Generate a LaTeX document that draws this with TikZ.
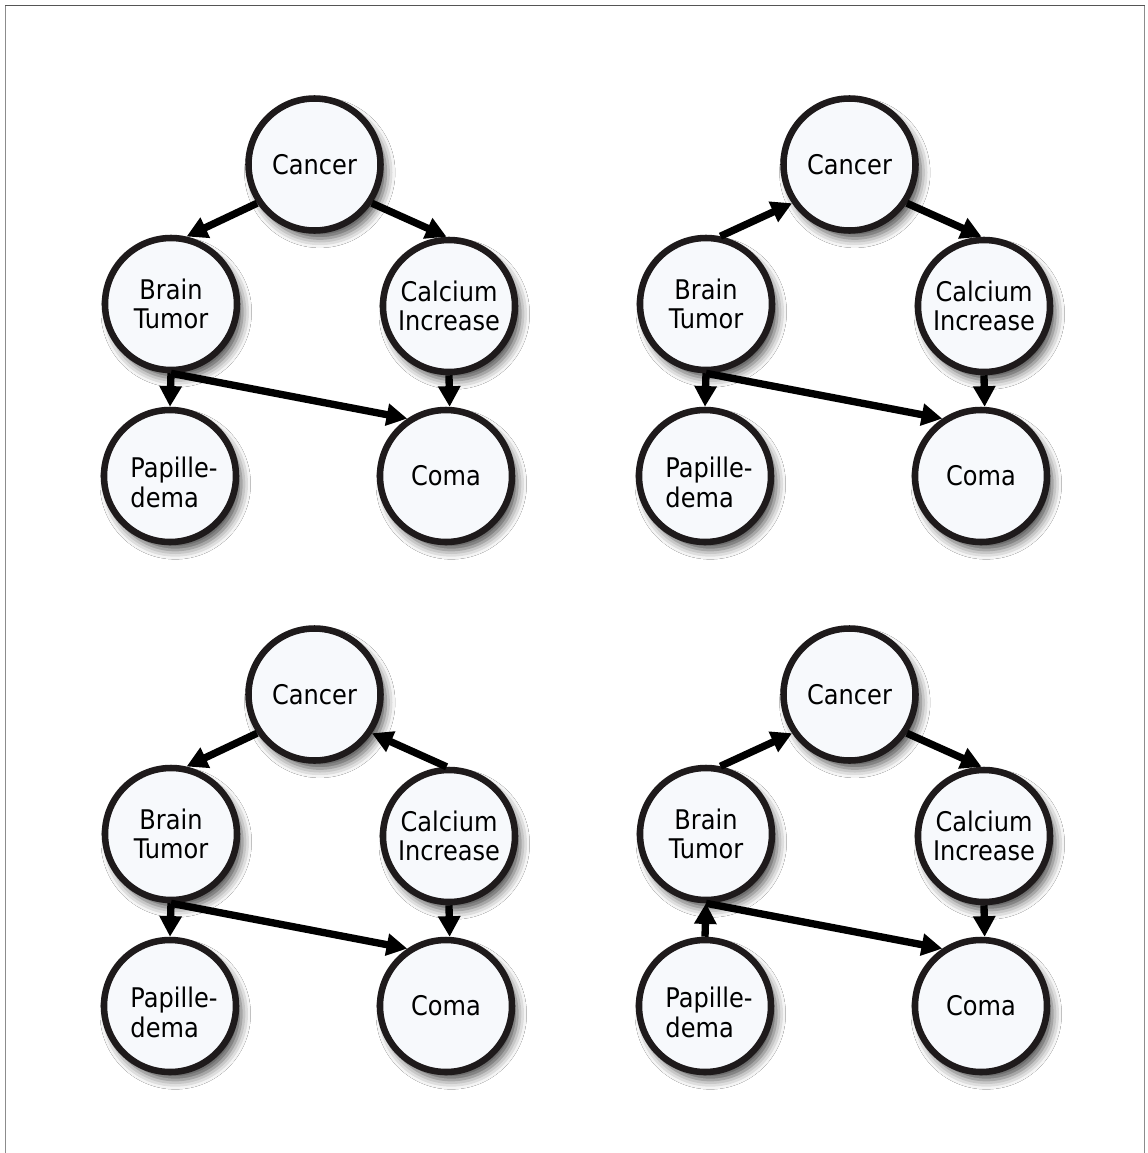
\documentclass[tikz,border=0pt]{standalone}
\usepackage{fontspec}
\setmainfont{DejaVu Sans}[FakeStretch=0.89]
\usetikzlibrary{arrows.meta,shadows.blur}
\definecolor{nodefill}{RGB}{247,249,252}
\definecolor{ink}{RGB}{30,26,27}
\definecolor{framedark}{RGB}{85,85,85}
\definecolor{framelight}{RGB}{140,140,140}
\tikzset{
  bnode/.style={circle, draw=ink, line width=4.9pt, fill=nodefill,
    minimum size=99pt, inner sep=0pt, align=center,
    font=\fontsize{20.3}{22}\selectfont,
    blur shadow={shadow xshift=4pt, shadow yshift=-6pt, shadow blur radius=7pt, shadow opacity=70}},
  ptext/.style={align=left, inner sep=0pt, font=\fontsize{20.3}{22.5}\selectfont},
  edge/.style={line width=5.5pt, draw=black, -{Triangle[length=15.5pt,width=16pt]}},
}
\begin{document}
\begin{tikzpicture}[x=0.75pt,y=-0.75pt]
\useasboundingbox (0,0) rectangle (1147,1153);
\fill[white] (0,0) rectangle (1147,1153);
\draw[framelight, line width=1.2pt] (5.5,1153) -- (5.5,5.5);
\draw[framelight, line width=1.2pt] (1144.5,5.5) -- (1144.5,1153);
\draw[framedark, line width=1.2pt] (5,5.5) -- (1145,5.5);

% ---------- panel 1 (top left)
\begin{scope}
\node[bnode] (c1) at (314.5,164.5) {Cancer};
\node[bnode] (b1) at (171,304) {Brain\\Tumor};
\node[bnode] (k1) at (449,306) {Calcium\\Increase};
\node[bnode] (p1) at (170,476) {};
\node[ptext] (pt1) at (174,482) {Papille-\\dema};
\node[bnode] (m1) at (446,476) {Coma};
\draw[edge] (c1.214) -- (b1.77);
\draw[edge] (c1.-34) -- (k1.92);
\draw[edge] (b1.south) -- (p1.north);
\draw[edge] (b1.south) -- (m1.124);
\draw[edge] (k1.south) -- (m1.87);
\end{scope}

% ---------- panel 2 (top right)
\begin{scope}[shift={(535,0)}]
\node[bnode] (c2) at (314.5,164.5) {Cancer};
\node[bnode] (b2) at (171,304) {Brain\\Tumor};
\node[bnode] (k2) at (449,306) {Calcium\\Increase};
\node[bnode] (p2) at (170,476) {};
\node[ptext] (pt2) at (174,482) {Papille-\\dema};
\node[bnode] (m2) at (446,476) {Coma};
\draw[edge] (b2.78) -- (c2.214);
\draw[edge] (c2.-34) -- (k2.92);
\draw[edge] (b2.south) -- (p2.north);
\draw[edge] (b2.south) -- (m2.124);
\draw[edge] (k2.south) -- (m2.87);
\end{scope}

% ---------- panel 3 (bottom left)
\begin{scope}[shift={(0,530)}]
\node[bnode] (c3) at (314.5,164.5) {Cancer};
\node[bnode] (b3) at (171,304) {Brain\\Tumor};
\node[bnode] (k3) at (449,306) {Calcium\\Increase};
\node[bnode] (p3) at (170,476) {};
\node[ptext] (pt3) at (174,482) {Papille-\\dema};
\node[bnode] (m3) at (446,476) {Coma};
\draw[edge] (c3.214) -- (b3.77);
\draw[edge] (k3.92) -- (c3.-34);
\draw[edge] (b3.south) -- (p3.north);
\draw[edge] (b3.south) -- (m3.124);
\draw[edge] (k3.south) -- (m3.87);
\end{scope}

% ---------- panel 4 (bottom right)
\begin{scope}[shift={(535,530)}]
\node[bnode] (c4) at (314.5,164.5) {Cancer};
\node[bnode] (b4) at (171,304) {Brain\\Tumor};
\node[bnode] (k4) at (449,306) {Calcium\\Increase};
\node[bnode] (p4) at (170,476) {};
\node[ptext] (pt4) at (174,482) {Papille-\\dema};
\node[bnode] (m4) at (446,476) {Coma};
\draw[edge] (b4.78) -- (c4.214);
\draw[edge] (c4.-34) -- (k4.92);
\draw[edge] (p4.north) -- (b4.south);
\draw[edge] (b4.south) -- (m4.124);
\draw[edge] (k4.south) -- (m4.87);
\end{scope}
\end{tikzpicture}
\end{document}
